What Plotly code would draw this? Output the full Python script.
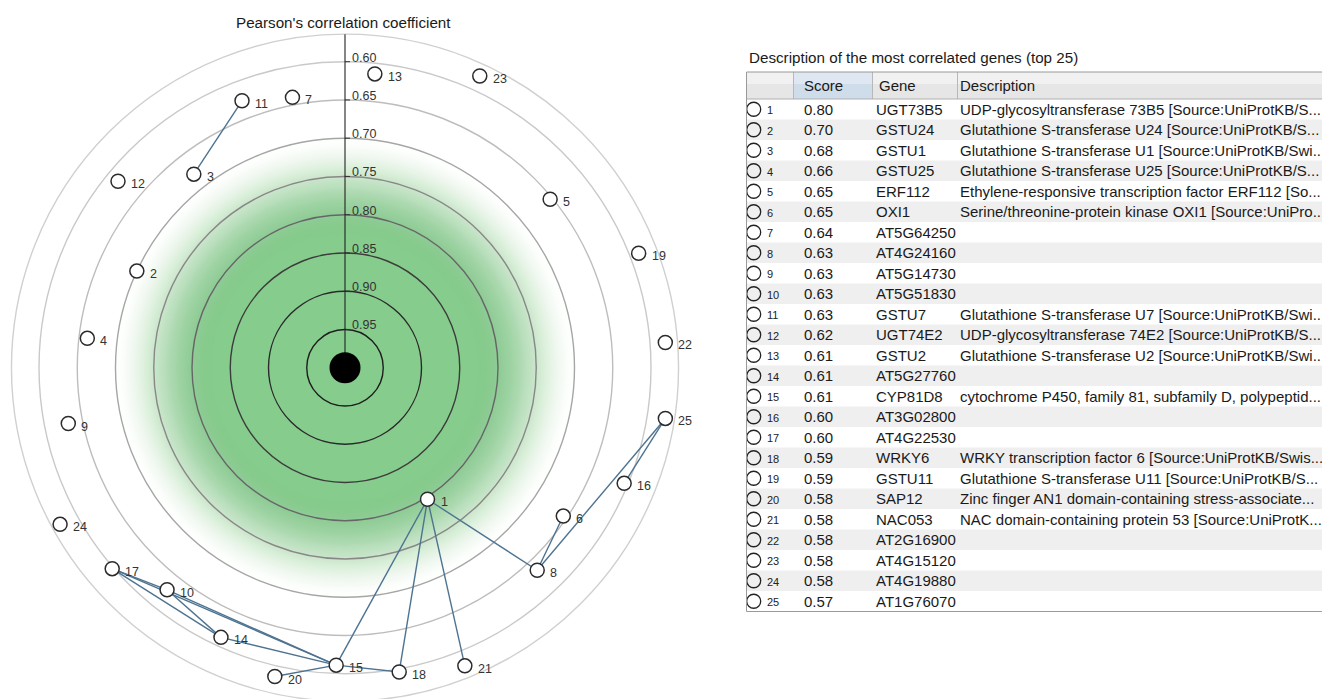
import numpy as np
import plotly.graph_objects as go

# ---------------- data ----------------
node_ids = list(range(1, 26))
# correlation (radial position) of each node
node_corr = [0.797, 0.700, 0.679, 0.661, 0.653, 0.655, 0.640, 0.635, 0.631, 0.628,
             0.626, 0.616, 0.614, 0.612, 0.611, 0.605, 0.598, 0.596, 0.588, 0.586,
             0.580, 0.580, 0.580, 0.575, 0.576]
# angular position (degrees, clockwise from top)
node_angle = [147.9, 294.9, 322.0, 276.5, 50.6, 124.2, 349.0, 136.5, 258.6, 218.7,
              338.9, 309.4, 5.8, 204.7, 181.7, 112.5, 229.2, 169.9, 68.7, 192.8,
              158.1, 85.5, 24.8, 241.2, 99.0]
edges = [(11, 3), (1, 8), (1, 15), (1, 18), (1, 21), (8, 6), (8, 25), (16, 25),
         (17, 10), (17, 15), (17, 14), (10, 14), (10, 15), (14, 15), (15, 20), (15, 18)]
ring_levels = [0.95, 0.90, 0.85, 0.80, 0.75, 0.70, 0.65, 0.60]
ring_labels = ["0.95", "0.90", "0.85", "0.80", "0.75", "0.70", "0.65", "0.60"]
outer_level = 0.564

scores = ["0.80", "0.70", "0.68", "0.66", "0.65", "0.65", "0.64", "0.63", "0.63", "0.63",
          "0.63", "0.62", "0.61", "0.61", "0.61", "0.60", "0.60", "0.59", "0.59", "0.58",
          "0.58", "0.58", "0.58", "0.58", "0.57"]
genes = ["UGT73B5", "GSTU24", "GSTU1", "GSTU25", "ERF112", "OXI1", "AT5G64250", "AT4G24160",
         "AT5G14730", "AT5G51830", "GSTU7", "UGT74E2", "GSTU2", "AT5G27760", "CYP81D8",
         "AT3G02800", "AT4G22530", "WRKY6", "GSTU11", "SAP12", "NAC053", "AT2G16900",
         "AT4G15120", "AT4G19880", "AT1G76070"]
descriptions = [
    "UDP-glycosyltransferase 73B5 [Source:UniProtKB/S...",
    "Glutathione S-transferase U24 [Source:UniProtKB/S...",
    "Glutathione S-transferase U1 [Source:UniProtKB/Swi...",
    "Glutathione S-transferase U25 [Source:UniProtKB/S...",
    "Ethylene-responsive transcription factor ERF112 [So...",
    "Serine/threonine-protein kinase OXI1 [Source:UniPro...",
    "", "", "", "",
    "Glutathione S-transferase U7 [Source:UniProtKB/Swi...",
    "UDP-glycosyltransferase 74E2 [Source:UniProtKB/S...",
    "Glutathione S-transferase U2 [Source:UniProtKB/Swi...",
    "",
    "cytochrome P450, family 81, subfamily D, polypeptid...",
    "", "",
    "WRKY transcription factor 6 [Source:UniProtKB/Swis...",
    "Glutathione S-transferase U11 [Source:UniProtKB/S...",
    "Zinc finger AN1 domain-containing stress-associate...",
    "NAC domain-containing protein 53 [Source:UniProtK...",
    "", "", "", "",
]
chart_title = "Pearson's correlation coefficient"
table_title = "Description of the most correlated genes (top 25)"
table_headers = ["Score", "Gene", "Description"]

# ---------------- layout constants ----------------
W, H = 1330, 699     # window size
OFF = 8              # page body margin
FW, FH = W - OFF, H - OFF
PX = 765.0           # pixels per unit of (1 - r)
CX, CY = 345.0, 367.7  # chart centre in window pixels
FONT = "Liberation Sans, Arial, sans-serif"
TFS = 15             # table font size

fig = go.Figure()

# node coordinates from correlation + angle
rad = 1 - np.array(node_corr)
th = np.deg2rad(np.array(node_angle))
nx = rad * np.sin(th)
ny = rad * np.cos(th)
pos = {i: (nx[k], ny[k]) for k, i in enumerate(node_ids)}

shapes = []
# green radial glow
g_in, g_out = 132 / PX, 238 / PX
K = 64
prev = 0.0
for r in np.linspace(g_out, g_in, K):
    t = (r - g_in) / (g_out - g_in)
    f = 1 - t * t * (3 - 2 * t)
    a = 1.0 if f >= 0.9999 else 1 - (1 - f) / (1 - prev)
    prev = f
    if a <= 0.001:
        continue
    shapes.append(dict(type="circle", xref="x", yref="y", x0=-r, y0=-r, x1=r, y1=r,
                       fillcolor=f"rgba(134,204,141,{a:.4f})", line=dict(width=0), layer="below"))

ring_colors = ["#1e1e1e", "#2a2a2a", "#3c3c3c", "#666666", "#888888", "#a6a6a6", "#bdbdbd", "#c9c9c9"]
for lev, col in zip(ring_levels, ring_colors):
    r = 1 - lev
    shapes.append(dict(type="circle", xref="x", yref="y", x0=-r, y0=-r, x1=r, y1=r,
                       line=dict(color=col, width=1.4), layer="below"))
    shapes.append(dict(type="line", xref="x", yref="y", x0=0, x1=5 / PX, y0=r, y1=r,
                       line=dict(color="#333", width=1), layer="below"))
ro = 1 - outer_level
shapes.append(dict(type="circle", xref="x", yref="y", x0=-ro, y0=-ro, x1=ro, y1=ro,
                   line=dict(color="#d0d0d0", width=1.4), layer="below"))
shapes.append(dict(type="line", xref="x", yref="y", x0=0, x1=0, y0=0, y1=ro,
                   line=dict(color="#222", width=1.1), layer="below"))

# edges
ex, ey = [], []
for a, b in edges:
    ex += [pos[a][0], pos[b][0], None]
    ey += [pos[a][1], pos[b][1], None]
fig.add_trace(go.Scatter(x=ex, y=ey, mode="lines", line=dict(color="#4d7391", width=1.4),
                         hoverinfo="skip", xaxis="x", yaxis="y"))
# nodes
fig.add_trace(go.Scatter(x=nx, y=ny, mode="markers",
                         marker=dict(size=14, color="white", line=dict(color="#2b2b2b", width=1.5)),
                         hoverinfo="skip", xaxis="x", yaxis="y"))
# center
fig.add_trace(go.Scatter(x=[0], y=[0], mode="markers", marker=dict(size=31, color="black"),
                         hoverinfo="skip", xaxis="x", yaxis="y"))

annotations = []
for k, i in enumerate(node_ids):
    annotations.append(dict(x=nx[k], y=ny[k], xref="x", yref="y", text=str(i), showarrow=False,
                            xanchor="left", yanchor="middle", xshift=11, yshift=-3,
                            font=dict(family=FONT, size=12.5, color="#333")))
for lev, lab in zip(ring_levels, ring_labels):
    annotations.append(dict(x=0, y=1 - lev, xref="x", yref="y", text=lab, showarrow=False,
                            xanchor="left", yanchor="middle", xshift=5, yshift=4,
                            font=dict(family=FONT, size=12.5, color="#333")))
annotations.append(dict(x=343, y=22, xref="x2", yref="y2", text=chart_title, showarrow=False,
                        xanchor="center", yanchor="middle",
                        font=dict(family=FONT, size=15.2, color="#1a1a1a")))

# ---------------- table (window-pixel axes x2/y2) ----------------
TL, TR, TT, HB = 746.5, 1340, 72, 99
ROW_H = 20.5
n = len(genes)
row_c = [HB + ROW_H * (k + 0.5) for k in range(n)]
TB = HB + ROW_H * n

for k in range(n):
    if k % 2 == 1:
        shapes.append(dict(type="rect", xref="x2", yref="y2", x0=TL, x1=1328,
                           y0=row_c[k] - ROW_H / 2, y1=row_c[k] + ROW_H / 2,
                           fillcolor="#efefef", line=dict(width=0), layer="below"))
# header
shapes.append(dict(type="rect", xref="x2", yref="y2", x0=TL, x1=TR, y0=TT, y1=HB,
                   fillcolor="#e6e6e6", line=dict(width=0), layer="below"))
shapes.append(dict(type="rect", xref="x2", yref="y2", x0=TL, x1=TR, y0=TT, y1=TT + 12,
                   fillcolor="#f1f1f1", line=dict(width=0), layer="below"))
col_sep = [793.5, 872.5, 957.5]
shapes.append(dict(type="rect", xref="x2", yref="y2", x0=col_sep[0], x1=col_sep[1], y0=TT, y1=HB,
                   fillcolor="#cfdcea", line=dict(width=0), layer="below"))
shapes.append(dict(type="rect", xref="x2", yref="y2", x0=col_sep[0], x1=col_sep[1], y0=TT, y1=TT + 12,
                   fillcolor="#dfe8f2", line=dict(width=0), layer="below"))
for xs in col_sep:
    shapes.append(dict(type="line", xref="x2", yref="y2", x0=xs, x1=xs, y0=TT, y1=HB,
                       line=dict(color="#b8b8b8", width=1), layer="below"))
shapes.append(dict(type="line", xref="x2", yref="y2", x0=TL, x1=TR, y0=HB, y1=HB,
                   line=dict(color="#b0b0b0", width=1), layer="below"))
shapes.append(dict(type="rect", xref="x2", yref="y2", x0=TL, x1=TR, y0=TT, y1=TB,
                   line=dict(color="#9a9a9a", width=1), layer="above"))

fig.add_trace(go.Scatter(x=[TL + 7.2] * n, y=row_c, mode="markers",
                         marker=dict(size=14, color="rgba(0,0,0,0)", line=dict(color="#222", width=1.3)),
                         hoverinfo="skip", xaxis="x2", yaxis="y2"))

annotations.append(dict(x=747, y=57, xref="x2", yref="y2", text=table_title, showarrow=False,
                        xanchor="left", yanchor="middle", font=dict(family=FONT, size=15.2, color="#1a1a1a")))
head_x = [802, 877, 958]
for hx, ht in zip(head_x, table_headers):
    annotations.append(dict(x=hx, y=(TT + HB) / 2, xref="x2", yref="y2", text=ht, showarrow=False,
                            xanchor="left", yanchor="middle", font=dict(family=FONT, size=TFS, color="#1a1a1a")))
for k in range(n):
    yc = row_c[k]
    annotations.append(dict(x=765, y=yc, xref="x2", yref="y2", text=str(node_ids[k]), showarrow=False,
                            xanchor="left", yanchor="middle", yshift=-1,
                            font=dict(family=FONT, size=11, color="#222")))
    for cx, txt in zip([802, 874, 958], [scores[k], genes[k], descriptions[k]]):
        if txt:
            annotations.append(dict(x=cx, y=yc, xref="x2", yref="y2", text=txt, showarrow=False,
                                    xanchor="left", yanchor="middle",
                                    font=dict(family=FONT, size=TFS, color="#1a1a1a")))

fig.update_layout(
    width=FW, height=FH, margin=dict(l=0, r=0, t=0, b=0),
    paper_bgcolor="white", plot_bgcolor="rgba(0,0,0,0)",
    showlegend=False, hovermode=False,
    xaxis=dict(domain=[0, 1], range=[-(CX - OFF) / PX, (W - CX) / PX], visible=False, fixedrange=True),
    yaxis=dict(domain=[0, 1], range=[-(H - CY) / PX, (CY - OFF) / PX], visible=False, fixedrange=True),
    xaxis2=dict(domain=[0, 1], range=[OFF, W], visible=False, anchor="y2", fixedrange=True),
    yaxis2=dict(domain=[0, 1], range=[H, OFF], visible=False, anchor="x2", fixedrange=True),
    shapes=shapes, annotations=annotations,
)

fig.write_html("out.html")
